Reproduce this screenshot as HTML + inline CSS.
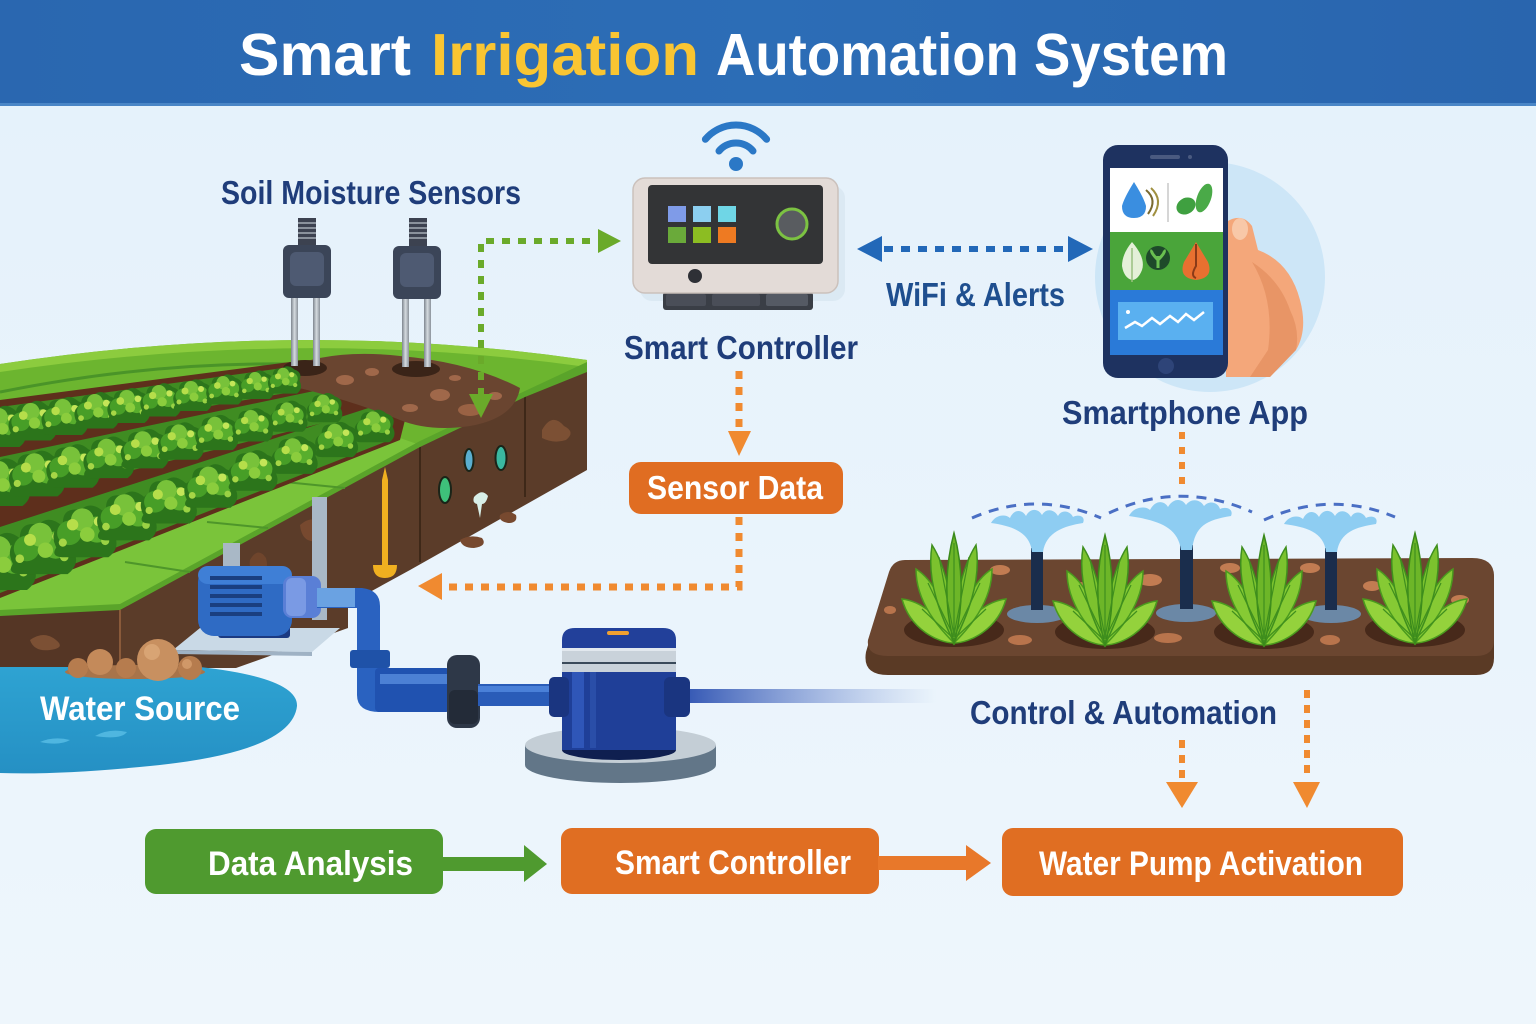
<!DOCTYPE html>
<html>
<head>
<meta charset="utf-8">
<style>
  html,body{margin:0;padding:0;background:#e9f4fc;}
  svg{display:block;}
  .lbl{font-family:"Liberation Sans",sans-serif;font-weight:bold;}
</style>
</head>
<body>
<svg width="1536" height="1024" viewBox="0 0 1536 1024" xmlns="http://www.w3.org/2000/svg">
<defs>
  <linearGradient id="bg" x1="0" y1="0" x2="0" y2="1">
    <stop offset="0" stop-color="#e4f1fb"/>
    <stop offset="1" stop-color="#eef6fc"/>
  </linearGradient>
  <linearGradient id="hdr" x1="0" y1="0" x2="1" y2="0">
    <stop offset="0" stop-color="#2a67b0"/>
    <stop offset="0.5" stop-color="#2c6db6"/>
    <stop offset="1" stop-color="#2965ae"/>
  </linearGradient>
  <linearGradient id="beam" x1="0" y1="0" x2="1" y2="0">
    <stop offset="0" stop-color="#2a4fb0" stop-opacity="0.95"/>
    <stop offset="1" stop-color="#6a88d0" stop-opacity="0"/>
  </linearGradient>
  <linearGradient id="leg" x1="0" y1="0" x2="1" y2="0">
    <stop offset="0" stop-color="#7d858e"/>
    <stop offset="0.5" stop-color="#d5dbe0"/>
    <stop offset="1" stop-color="#8a929a"/>
  </linearGradient>
  <linearGradient id="water" x1="0" y1="0" x2="0" y2="1">
    <stop offset="0" stop-color="#2ea3d2"/>
    <stop offset="1" stop-color="#2590c4"/>
  </linearGradient>
  <g id="L">
    <path d="M-17,4 Q-22,-6 -13,-11 Q-13,-21 -2,-19 Q4,-25 12,-18 Q22,-15 18,-5 Q23,4 15,10 L-12,10 Q-21,10 -17,4Z" fill="#2c751b"/>
    <circle cx="-9" cy="-5" r="7.5" fill="#479e27"/>
    <circle cx="8" cy="-7" r="8" fill="#58ae2d"/>
    <circle cx="-1" cy="-13" r="7" fill="#78c23a"/>
    <circle cx="-7" cy="-10" r="3.5" fill="#b6de4a"/>
    <circle cx="9" cy="-12" r="3" fill="#c4e658"/>
    <circle cx="2" cy="-4" r="4.5" fill="#8bcd3d"/>
    <circle cx="-13" cy="1" r="2.5" fill="#a6d646"/>
    <circle cx="13" cy="0" r="2.5" fill="#9ad244"/>
  </g>
  <g id="P">
    <path d="M0,0 C-16,0 -44,-14 -52,-44 C-34,-42 -14,-28 0,0Z" fill="#94d23c" stroke="#4a9a1e" stroke-width="1.5"/>
    <path d="M0,0 C16,0 44,-14 52,-44 C34,-42 14,-28 0,0Z" fill="#94d23c" stroke="#4a9a1e" stroke-width="1.5"/>
    <path d="M0,0 C-14,-14 -38,-40 -38,-74 C-22,-64 -8,-40 0,0Z" fill="#86ca34" stroke="#4a9a1e" stroke-width="1.5"/>
    <path d="M0,0 C14,-14 38,-40 38,-74 C22,-64 8,-40 0,0Z" fill="#86ca34" stroke="#4a9a1e" stroke-width="1.5"/>
    <path d="M0,0 C-12,-26 -28,-60 -22,-98 C-8,-76 0,-40 0,0Z" fill="#7cc22e" stroke="#3f8f1e" stroke-width="1.5"/>
    <path d="M0,0 C12,-26 28,-60 22,-98 C8,-76 0,-40 0,0Z" fill="#7cc22e" stroke="#3f8f1e" stroke-width="1.5"/>
    <path d="M0,0 C-11,-40 -8,-80 0,-110 C8,-80 11,-40 0,0Z" fill="#6db628" stroke="#3a8a1a" stroke-width="1.5"/>
    <path d="M0,-4 L-32,-34 M0,-4 L32,-34 M0,-6 L-26,-60 M0,-6 L26,-60 M0,-8 L-15,-86 M0,-8 L15,-86 M0,-10 L0,-100" stroke="#3f8f1e" stroke-width="1.2" fill="none"/>
  </g>
</defs>

<!-- background -->
<rect x="0" y="0" width="1536" height="1024" fill="url(#bg)"/>

<!-- header -->
<rect x="0" y="0" width="1536" height="105" fill="url(#hdr)"/>
<rect x="0" y="103" width="1536" height="3" fill="#4a86c6"/>
<text class="lbl" x="239" y="75" font-size="59" fill="#ffffff" textLength="172" lengthAdjust="spacingAndGlyphs">Smart</text>
<text class="lbl" x="431" y="75" font-size="59" fill="#f9c532" textLength="268" lengthAdjust="spacingAndGlyphs">Irrigation</text>
<text class="lbl" x="716" y="75" font-size="59" fill="#ffffff" textLength="512" lengthAdjust="spacingAndGlyphs">Automation System</text>

<!-- ================= FIELD ================= -->
<path d="M587,368 L587,470 L410,570 L348,604 L348,628 L236,668 L0,668 L0,612 L120,608 L420,445 L525,395 Z" fill="#5b3c29"/>
<path d="M0,614 L120,608 L120,668 L0,668 Z" fill="#553625"/>
<line x1="120" y1="610" x2="120" y2="666" stroke="#8a5a3a" stroke-width="2"/>
<line x1="525" y1="395" x2="525" y2="497" stroke="#3e2818" stroke-width="2"/>
<line x1="420" y1="447" x2="420" y2="562" stroke="#3e2818" stroke-width="2"/>
<path d="M542,430 q10,-18 22,-4 q12,6 2,14 q-12,4 -24,-2z" fill="#7c5034"/>
<path d="M300,525 q14,-12 20,2 q10,8 -4,14 q-14,2 -16,-16z" fill="#77492f"/>
<path d="M30,640 q14,-10 26,0 q10,8 -6,10 q-16,2 -20,-10z" fill="#7c5034"/>
<path d="M460,540 q10,-6 22,-2 q6,8 -8,10 q-12,0 -14,-8z" fill="#77492f"/>
<path d="M500,515 q8,-6 16,0 q2,8 -8,8 q-10,-2 -8,-8z" fill="#77492f"/>
<path d="M250,560 q8,-14 16,-2 q4,14 -8,18 q-10,-4 -8,-16z" fill="#6f452c"/>

<!-- top surface -->
<path d="M0,364 Q300,318 587,360 L587,370 L525,395 L420,445 L120,608 L0,614 Z" fill="#6cb52f"/>
<path d="M0,364 Q300,318 587,360 L587,367 Q300,327 0,372 Z" fill="#8ccc3e"/>
<path d="M0,392 Q150,362 290,364" fill="none" stroke="#4a9428" stroke-width="3"/>
<path d="M0,596 L400,438 L420,445 L120,608 L0,614 Z" fill="#7ac43a"/>
<path d="M587,362 L587,372 L525,397 L420,447 L120,610 L0,616 L0,610 L120,604 L420,441 L525,391 Z" fill="#5aa42a"/>
<line x1="125" y1="562" x2="190" y2="572" stroke="#4e962a" stroke-width="2"/>
<line x1="207" y1="522" x2="268" y2="528" stroke="#4e962a" stroke-width="2"/>
<line x1="285" y1="482" x2="345" y2="488" stroke="#4e962a" stroke-width="2"/>

<!-- planted area furrows -->
<path d="M0,400 L290,362 L340,380 L405,420 L400,440 L0,598 Z" fill="#5e2f1c"/>
<path d="M0,407 L290,367 L292,392 L0,442 Z" fill="#3f8c22"/>
<path d="M0,457 L333,387 L335,420 L0,503 Z" fill="#3f8c22"/>
<path d="M0,527 L387,402 L390,440 L0,593 Z" fill="#3f8c22"/>

<!-- soil mound -->
<path d="M282,370 Q330,348 400,356 Q470,362 520,388 Q515,418 470,426 Q430,432 400,420 Q345,398 282,384 Z" fill="#6a4530"/>
<ellipse cx="345" cy="380" rx="9" ry="5" fill="#a0684a"/>
<ellipse cx="372" cy="372" rx="7" ry="4" fill="#a0684a"/>
<ellipse cx="440" cy="395" rx="10" ry="6" fill="#a0684a"/>
<ellipse cx="470" cy="410" rx="12" ry="6" fill="#9a6244"/>
<ellipse cx="495" cy="396" rx="7" ry="4" fill="#a0684a"/>
<ellipse cx="410" cy="408" rx="8" ry="4" fill="#a0684a"/>
<ellipse cx="455" cy="378" rx="6" ry="3" fill="#a0684a"/>
<ellipse cx="305" cy="368" rx="22" ry="8" fill="#3a2418"/>
<ellipse cx="416" cy="369" rx="24" ry="8" fill="#3a2418"/>

<!-- lettuce rows -->
<use href="#L" transform="translate(0,434) scale(1.3)"/>
<use href="#L" transform="translate(32,428) scale(1.25)"/>
<use href="#L" transform="translate(64,423) scale(1.2)"/>
<use href="#L" transform="translate(96,417) scale(1.15)"/>
<use href="#L" transform="translate(128,412) scale(1.1)"/>
<use href="#L" transform="translate(160,406) scale(1.05)"/>
<use href="#L" transform="translate(192,401) scale(1.0)"/>
<use href="#L" transform="translate(224,395) scale(0.95)"/>
<use href="#L" transform="translate(256,390) scale(0.9)"/>
<use href="#L" transform="translate(284,385) scale(0.86)"/>

<use href="#L" transform="translate(0,491) scale(1.5)"/>
<use href="#L" transform="translate(36,482) scale(1.44)"/>
<use href="#L" transform="translate(72,474) scale(1.37)"/>
<use href="#L" transform="translate(108,465) scale(1.31)"/>
<use href="#L" transform="translate(144,456) scale(1.24)"/>
<use href="#L" transform="translate(180,448) scale(1.18)"/>
<use href="#L" transform="translate(216,439) scale(1.11)"/>
<use href="#L" transform="translate(252,431) scale(1.05)"/>
<use href="#L" transform="translate(288,422) scale(0.98)"/>
<use href="#L" transform="translate(324,413) scale(0.92)"/>

<use href="#L" transform="translate(0,572) scale(1.8)"/>
<use href="#L" transform="translate(42,557) scale(1.71)"/>
<use href="#L" transform="translate(84,541) scale(1.63)"/>
<use href="#L" transform="translate(126,525) scale(1.54)"/>
<use href="#L" transform="translate(168,509) scale(1.45)"/>
<use href="#L" transform="translate(210,494) scale(1.37)"/>
<use href="#L" transform="translate(252,478) scale(1.28)"/>
<use href="#L" transform="translate(294,462) scale(1.19)"/>
<use href="#L" transform="translate(336,446) scale(1.11)"/>
<use href="#L" transform="translate(374,432) scale(1.03)"/>

<!-- ovals in soil face -->
<ellipse cx="445" cy="490" rx="6" ry="13" fill="#3ec07a" stroke="#1a2418" stroke-width="2"/>
<ellipse cx="469" cy="460" rx="4.5" ry="11" fill="#5aaed0" stroke="#1a2418" stroke-width="2"/>
<ellipse cx="501" cy="458" rx="5.5" ry="12" fill="#3ab8a0" stroke="#1a2418" stroke-width="2"/>
<path d="M474,497 Q482,488 488,496 Q486,504 482,504 L480,518 L477,504 Q472,503 474,497Z" fill="#d8efe8"/>

<!-- yellow pin -->
<path d="M385,467 L388,480 L388,566 L382,566 L382,480 Z" fill="#f0b020"/>
<path d="M373,565 L397,565 Q397,578 385,578 Q373,578 373,565 Z" fill="#f0b020"/>

<!-- grey pipes -->
<rect x="312" y="497" width="15" height="123" fill="#a9b8c6"/>
<rect x="223" y="543" width="17" height="30" fill="#a9b8c6"/>

<!-- pump platform -->
<path d="M173,650 L200,628 L340,628 L312,652 Z" fill="#c9d9e6"/>
<path d="M173,650 L312,652 L312,656 L173,654 Z" fill="#9fb2c4"/>

<!-- motor -->
<rect x="218" y="620" width="72" height="18" rx="3" fill="#1b3a82"/>
<rect x="198" y="566" width="94" height="70" rx="16" fill="#2f6bc4"/>
<rect x="198" y="566" width="94" height="18" rx="10" fill="#3f7fd6"/>
<rect x="210" y="576" width="52" height="4" fill="#1a3f80"/>
<rect x="210" y="585" width="52" height="4" fill="#1a3f80"/>
<rect x="210" y="594" width="52" height="4" fill="#1a3f80"/>
<rect x="210" y="603" width="52" height="4" fill="#1a3f80"/>
<rect x="210" y="612" width="52" height="4" fill="#1a3f80"/>
<rect x="283" y="576" width="38" height="42" rx="9" fill="#5a7fd6"/>
<rect x="286" y="578" width="20" height="38" rx="6" fill="#7a9ae4"/>

<!-- pipe from motor -->
<path d="M317,588 L362,588 Q380,590 380,606 L380,690 L357,690 L357,608 L317,608 Z" fill="#2a62c0"/>
<rect x="317" y="588" width="38" height="19" fill="#6aa2e2"/>
<rect x="350" y="650" width="40" height="18" rx="3" fill="#1f52a8"/>
<path d="M357,688 L380,688 L380,700 L392,700 L392,712 L380,712 Q357,712 357,695 Z" fill="#2a62c0"/>
<rect x="375" y="668" width="75" height="44" rx="4" fill="#2052b0"/>
<rect x="380" y="674" width="68" height="10" fill="#4c80d4"/>
<rect x="447" y="655" width="33" height="73" rx="10" fill="#2e3848"/>
<rect x="449" y="690" width="29" height="34" rx="6" fill="#232b38"/>
<rect x="478" y="684" width="75" height="22" fill="#2a5cb8"/>
<rect x="478" y="686" width="75" height="6" fill="#4a80d8"/>

<!-- beam -->
<rect x="686" y="689" width="250" height="14" fill="url(#beam)"/>

<!-- big pump -->
<path d="M525,745 L525,765 A95.5,18 0 0 0 716,765 L716,745 Z" fill="#627688"/>
<ellipse cx="620.5" cy="745" rx="95.5" ry="18" fill="#c4ced6"/>
<ellipse cx="619" cy="750" rx="57" ry="10" fill="#0f1f50"/>
<rect x="562" y="668" width="114" height="82" fill="#1f3f98"/>
<rect x="572" y="672" width="12" height="76" fill="#2f56b8"/>
<rect x="590" y="672" width="6" height="76" fill="#2a4ea8"/>
<rect x="549" y="677" width="20" height="40" rx="5" fill="#1a3580"/>
<rect x="664" y="677" width="26" height="40" rx="6" fill="#1a3580"/>
<rect x="562" y="645" width="114" height="27" fill="#c9d2da"/>
<rect x="562" y="645" width="114" height="6" fill="#e2e8ee"/>
<rect x="562" y="662" width="114" height="2" fill="#3a4a5a"/>
<path d="M562,648 L562,640 Q562,628 575,628 L663,628 Q676,628 676,640 L676,648 Z" fill="#22409a"/>
<rect x="607" y="631" width="22" height="4" rx="2" fill="#f0a030"/>

<!-- water source -->
<path d="M0,667 L200,667 Q298,678 297,706 Q292,752 150,766 Q60,775 0,773 Z" fill="url(#water)"/>
<path d="M40,742 q14,-6 30,-2 q-10,6 -30,2z" fill="#4fb6e0"/>
<path d="M95,736 q14,-8 32,-4 q-6,8 -32,4z" fill="#4fb6e0"/>
<!-- stones -->
<ellipse cx="135" cy="672" rx="70" ry="7" fill="#a8744a"/>
<circle cx="78" cy="668" r="10" fill="#b67c4e"/>
<circle cx="100" cy="662" r="13" fill="#c48a5a"/>
<circle cx="126" cy="668" r="10" fill="#b67c4e"/>
<circle cx="158" cy="660" r="21" fill="#c89060"/>
<circle cx="152" cy="652" r="8" fill="#d8a474"/>
<circle cx="190" cy="668" r="12" fill="#b67c4e"/>
<circle cx="187" cy="664" r="5" fill="#d09868"/>
<text class="lbl" x="40" y="720" font-size="34" fill="#ffffff" textLength="200" lengthAdjust="spacingAndGlyphs">Water Source</text>

<!-- sensors -->
<g>
  <rect x="298" y="218" width="18" height="28" fill="#3c4250"/>
  <rect x="298" y="222" width="18" height="2" fill="#8a929c"/>
  <rect x="298" y="227" width="18" height="2" fill="#8a929c"/>
  <rect x="298" y="232" width="18" height="2" fill="#8a929c"/>
  <rect x="298" y="237" width="18" height="2" fill="#8a929c"/>
  <rect x="291" y="296" width="7" height="70" fill="url(#leg)"/>
  <rect x="313" y="296" width="7" height="70" fill="url(#leg)"/>
  <rect x="283" y="245" width="48" height="53" rx="6" fill="#3b4558"/>
  <rect x="290" y="252" width="34" height="34" rx="6" fill="#4e5a72"/>
</g>
<g>
  <rect x="409" y="218" width="18" height="28" fill="#3c4250"/>
  <rect x="409" y="222" width="18" height="2" fill="#8a929c"/>
  <rect x="409" y="227" width="18" height="2" fill="#8a929c"/>
  <rect x="409" y="232" width="18" height="2" fill="#8a929c"/>
  <rect x="409" y="237" width="18" height="2" fill="#8a929c"/>
  <rect x="402" y="297" width="7" height="70" fill="url(#leg)"/>
  <rect x="424" y="297" width="7" height="70" fill="url(#leg)"/>
  <rect x="393" y="246" width="48" height="53" rx="6" fill="#3b4558"/>
  <rect x="400" y="253" width="34" height="34" rx="6" fill="#4e5a72"/>
</g>
<text class="lbl" x="221" y="204" font-size="33" fill="#1f3d7a" textLength="300" lengthAdjust="spacingAndGlyphs">Soil Moisture Sensors</text>

<!-- green dotted arrow -->
<path d="M481,396 L481,241 L598,241" fill="none" stroke="#6aaa2a" stroke-width="6" stroke-dasharray="8 8"/>
<polygon points="469,394 493,394 481,418" fill="#6aaa2a"/>
<polygon points="598,229 621,241 598,253" fill="#6aaa2a"/>

<!-- ============ SMART CONTROLLER ============ -->
<path d="M705.4,139.3 A40,40 0 0 1 766.6,139.3" fill="none" stroke="#2b78c6" stroke-width="7" stroke-linecap="round"/>
<path d="M719,151 A22,22 0 0 1 753,151" fill="none" stroke="#2b78c6" stroke-width="7" stroke-linecap="round"/>
<circle cx="736" cy="164" r="7" fill="#2b78c6"/>

<rect x="640" y="186" width="205" height="115" rx="12" fill="#d4e2ee" opacity="0.6"/>
<rect x="663" y="292" width="150" height="18" rx="3" fill="#3a3e46"/>
<rect x="666" y="294" width="40" height="12" rx="2" fill="#4a4e58"/>
<rect x="712" y="294" width="48" height="12" rx="2" fill="#4a4e58"/>
<rect x="766" y="294" width="42" height="12" rx="2" fill="#555a64"/>
<rect x="633" y="178" width="205" height="115" rx="12" fill="#e3dbd7" stroke="#cbc1bc" stroke-width="1.5"/>
<rect x="648" y="185" width="175" height="79" rx="4" fill="#333436"/>
<rect x="668" y="206" width="18" height="16" fill="#7f9be8"/>
<rect x="693" y="206" width="18" height="16" fill="#8ccff0"/>
<rect x="718" y="206" width="18" height="16" fill="#6fd6e6"/>
<rect x="668" y="227" width="18" height="16" fill="#6aaa3a"/>
<rect x="693" y="227" width="18" height="16" fill="#8cbd22"/>
<rect x="718" y="227" width="18" height="16" fill="#ee7a22"/>
<circle cx="792" cy="224" r="15" fill="#595c60" stroke="#7cc242" stroke-width="3"/>
<circle cx="695" cy="276" r="7" fill="#2e3036"/>
<text class="lbl" x="624" y="359" font-size="33" fill="#1f3d7a" textLength="234" lengthAdjust="spacingAndGlyphs">Smart Controller</text>

<!-- blue double arrow -->
<line x1="884" y1="249" x2="1068" y2="249" stroke="#2268b8" stroke-width="6" stroke-dasharray="9 8"/>
<polygon points="857,249 882,236 882,262" fill="#2268b8"/>
<polygon points="1093,249 1068,236 1068,262" fill="#2268b8"/>
<text class="lbl" x="886" y="306" font-size="33" fill="#1f4f8f" textLength="179" lengthAdjust="spacingAndGlyphs">WiFi &amp; Alerts</text>

<!-- ============ PHONE ============ -->
<circle cx="1210" cy="277" r="115" fill="#cde6f7"/>
<path d="M1226,222 Q1242,212 1252,226 L1258,250 Q1290,262 1300,300 Q1308,330 1296,350 L1270,377 L1226,377 Z" fill="#f4a77a"/>
<path d="M1252,262 Q1275,300 1268,350 L1250,377 L1270,377 L1296,350 Q1300,330 1290,310 Q1280,280 1252,262Z" fill="#e08858" opacity="0.6"/>
<ellipse cx="1240" cy="229" rx="8" ry="11" fill="#f8c8a8"/>
<rect x="1103" y="145" width="125" height="233" rx="15" fill="#1e3260"/>
<rect x="1150" y="155" width="30" height="4" rx="2" fill="#4a5a80"/>
<circle cx="1190" cy="157" r="2" fill="#4a5a80"/>
<rect x="1110" y="168" width="113" height="64" fill="#ffffff"/>
<rect x="1110" y="232" width="113" height="58" fill="#4aa53a"/>
<rect x="1110" y="290" width="113" height="65" fill="#2a7ad8"/>
<rect x="1118" y="302" width="95" height="38" fill="#5ab0f0"/>
<polyline points="1125,328 1135,322 1142,326 1152,318 1160,324 1170,316 1178,322 1186,314 1194,320 1204,312" fill="none" stroke="#ffffff" stroke-width="2.5"/>
<circle cx="1128" cy="312" r="2" fill="#ffffff"/>
<circle cx="1166" cy="366" r="8" fill="#2e4478"/>
<path d="M1134,182 Q1124,198 1122,206 Q1122,218 1134,218 Q1146,218 1146,206 Q1144,198 1134,182Z" fill="#3a8ee0"/>
<path d="M1146,190 Q1158,200 1148,214" fill="none" stroke="#7a6a30" stroke-width="2"/>
<path d="M1151,188 Q1164,200 1153,216" fill="none" stroke="#a09040" stroke-width="2"/>
<line x1="1168" y1="183" x2="1168" y2="222" stroke="#c8c8c8" stroke-width="1.5"/>
<ellipse cx="1186" cy="206" rx="10" ry="8" fill="#3fa040" transform="rotate(-30 1186 206)"/>
<ellipse cx="1204" cy="198" rx="7" ry="15" fill="#4aaa48" transform="rotate(20 1204 198)"/>
<path d="M1132,242 Q1146,258 1142,270 Q1138,280 1132,280 Q1124,278 1122,266 Q1122,254 1132,242Z" fill="#e4f0d8"/>
<line x1="1132" y1="248" x2="1132" y2="282" stroke="#9ac080" stroke-width="1.5"/>
<circle cx="1158" cy="258" r="12" fill="#1e4a2a"/>
<path d="M1158,268 L1158,256 M1158,260 Q1150,252 1152,250 M1158,260 Q1166,252 1164,250" stroke="#6ac050" stroke-width="3" fill="none"/>
<path d="M1196,242 Q1190,252 1184,262 Q1178,278 1196,280 Q1214,278 1208,262 Q1202,252 1196,242Z" fill="#e87030"/>
<path d="M1196,244 L1196,266 Q1190,276 1196,278" stroke="#8a3a18" stroke-width="2" fill="none"/>
<text class="lbl" x="1062" y="424" font-size="33" fill="#1f3d7a" textLength="246" lengthAdjust="spacingAndGlyphs">Smartphone App</text>

<!-- orange arrows -->
<line x1="739" y1="371" x2="739" y2="432" stroke="#f08a30" stroke-width="7" stroke-dasharray="8 8"/>
<polygon points="728,431 751,431 739,456" fill="#f08a30"/>
<rect x="629" y="462" width="214" height="52" rx="12" fill="#e06d22"/>
<text class="lbl" x="647" y="499" font-size="33" fill="#ffffff" textLength="176" lengthAdjust="spacingAndGlyphs">Sensor Data</text>
<path d="M739,517 L739,587 L442,587" fill="none" stroke="#f08a30" stroke-width="7" stroke-dasharray="8 8"/>
<polygon points="418,586 442,573 442,600" fill="#f08a30"/>

<line x1="1182" y1="432" x2="1182" y2="486" stroke="#f08a30" stroke-width="6" stroke-dasharray="7 8"/>

<!-- ============ SPRINKLER BED ============ -->
<path d="M905,562 Q893,562 889,574 L866,652 Q862,675 888,675 L1476,675 Q1494,675 1494,658 L1494,578 Q1494,560 1472,560 Z" fill="#5a3a25"/>
<path d="M905,560 Q893,560 889,572 L868,640 Q866,656 888,656 L1476,656 Q1494,656 1494,640 L1494,576 Q1494,558 1472,558 Z" fill="#6b4630"/>
<ellipse cx="1000" cy="570" rx="10" ry="5" fill="#c27c52"/>
<ellipse cx="945" cy="585" rx="12" ry="6" fill="#c27c52"/>
<ellipse cx="1020" cy="640" rx="12" ry="5" fill="#b8744c"/>
<ellipse cx="1150" cy="580" rx="12" ry="6" fill="#c27c52"/>
<ellipse cx="1168" cy="638" rx="14" ry="5" fill="#b8744c"/>
<ellipse cx="1230" cy="568" rx="10" ry="5" fill="#c27c52"/>
<ellipse cx="1310" cy="568" rx="10" ry="5" fill="#c27c52"/>
<ellipse cx="1372" cy="586" rx="9" ry="5" fill="#c27c52"/>
<ellipse cx="1460" cy="600" rx="9" ry="5" fill="#c27c52"/>
<ellipse cx="1080" cy="586" rx="7" ry="4" fill="#c27c52"/>
<ellipse cx="1330" cy="640" rx="10" ry="5" fill="#b8744c"/>
<ellipse cx="890" cy="610" rx="6" ry="4" fill="#b8744c"/>
<ellipse cx="954" cy="630" rx="50" ry="17" fill="#47291a"/>
<ellipse cx="1105" cy="632" rx="50" ry="17" fill="#47291a"/>
<ellipse cx="1264" cy="632" rx="50" ry="17" fill="#47291a"/>
<ellipse cx="1415" cy="630" rx="50" ry="17" fill="#47291a"/>
<ellipse cx="1037" cy="614" rx="30" ry="9" fill="#6b88a6"/>
<ellipse cx="1186" cy="613" rx="30" ry="9" fill="#6b88a6"/>
<ellipse cx="1331" cy="614" rx="30" ry="9" fill="#6b88a6"/>
<rect x="1031" y="548" width="12" height="62" fill="#1a2d4c"/>
<rect x="1180" y="545" width="13" height="64" fill="#1a2d4c"/>
<rect x="1325" y="548" width="12" height="62" fill="#1a2d4c"/>
<g fill="#8ecdf2">
  <path d="M1032,552 C1030,532 1012,526 991,523 C996,514 1006,514 1010,518 C1014,509 1022,509 1026,516 C1030,508 1038,508 1042,515 C1046,508 1054,509 1058,516 C1062,509 1070,511 1073,517 C1078,514 1086,516 1083,523 C1064,526 1046,532 1043,552 Z"/>
  <path d="M1181,550 C1178,526 1156,520 1129,516 C1134,506 1146,506 1150,510 C1155,500 1164,500 1168,507 C1173,498 1182,498 1186,505 C1191,498 1200,499 1204,506 C1209,500 1218,502 1220,509 C1226,506 1234,509 1231,516 C1206,520 1195,526 1192,550 Z"/>
  <path d="M1326,552 C1324,532 1306,527 1284,524 C1289,515 1299,515 1303,519 C1307,510 1315,510 1319,517 C1323,509 1331,509 1335,516 C1339,509 1347,510 1351,517 C1355,510 1363,512 1366,518 C1371,515 1379,517 1376,524 C1356,527 1340,532 1337,552 Z"/>
</g>
<g fill="none" stroke="#4a6fc4" stroke-width="3" stroke-dasharray="10 8">
  <path d="M972,518 Q1036,490 1101,518"/>
  <path d="M1109,513 Q1180,480 1252,512"/>
  <path d="M1264,520 Q1330,490 1395,517"/>
</g>
<use href="#P" transform="translate(954,643)"/>
<use href="#P" transform="translate(1105,645)"/>
<use href="#P" transform="translate(1264,645)"/>
<use href="#P" transform="translate(1415,643)"/>

<text class="lbl" x="970" y="724" font-size="33" fill="#1f3d7a" textLength="307" lengthAdjust="spacingAndGlyphs">Control &amp; Automation</text>

<line x1="1307" y1="690" x2="1307" y2="780" stroke="#f08a30" stroke-width="6" stroke-dasharray="8 7"/>
<polygon points="1293,782 1320,782 1307,808" fill="#f08a30"/>
<line x1="1182" y1="740" x2="1182" y2="780" stroke="#f08a30" stroke-width="6" stroke-dasharray="8 7"/>
<polygon points="1166,782 1198,782 1182,808" fill="#f08a30"/>

<!-- ============ BOTTOM FLOW ============ -->
<rect x="145" y="829" width="298" height="65" rx="11" fill="#4f9a2f"/>
<text class="lbl" x="208" y="875" font-size="34" fill="#ffffff" textLength="205" lengthAdjust="spacingAndGlyphs">Data Analysis</text>
<rect x="443" y="857" width="83" height="14" fill="#4f9a2f"/>
<polygon points="524,845 547,864 524,882" fill="#4f9a2f"/>

<rect x="561" y="828" width="318" height="66" rx="11" fill="#e06e22"/>
<text class="lbl" x="615" y="874" font-size="34" fill="#ffffff" textLength="236" lengthAdjust="spacingAndGlyphs">Smart Controller</text>
<rect x="878" y="856" width="90" height="14" fill="#e8782a"/>
<polygon points="966,845 991,863 966,881" fill="#e8782a"/>

<rect x="1002" y="828" width="401" height="68" rx="11" fill="#e06e22"/>
<text class="lbl" x="1039" y="875" font-size="34" fill="#ffffff" textLength="324" lengthAdjust="spacingAndGlyphs">Water Pump Activation</text>
</svg>
</body>
</html>
